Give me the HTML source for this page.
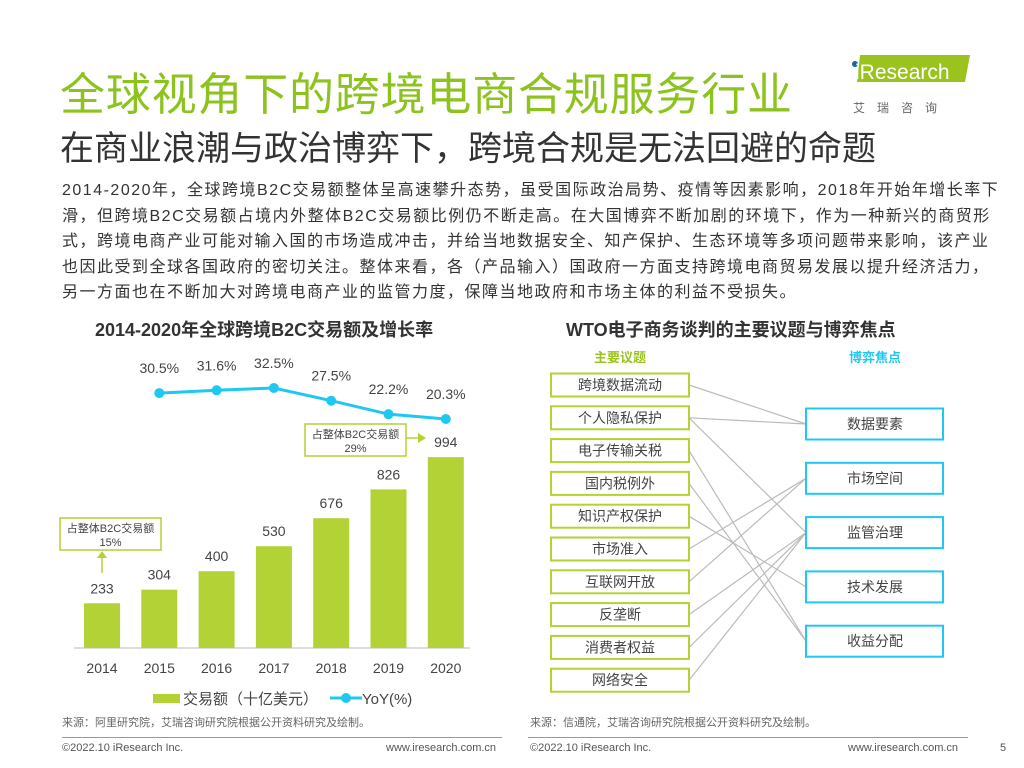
<!DOCTYPE html>
<html><head><meta charset="utf-8"><style>
body{margin:0;width:1024px;height:768px;background:#fff;position:relative;overflow:hidden;font-family:"Liberation Sans","Noto Sans CJK SC",sans-serif;color:#333}
.a{position:absolute;white-space:nowrap}
.p{font-size:16px;letter-spacing:1.5px;line-height:25.5px}
</style></head><body>
<div class="a" style="left:60px;top:58px;font-size:45px;color:#8cc31e;letter-spacing:0.8px">全球视角下的跨境电商合规服务行业</div>
<div class="a" style="left:60px;top:121px;font-size:34px;color:#333">在商业浪潮与政治博弈下，跨境合规是无法回避的命题</div>
<div class="a" style="left:845px;top:52px;width:130px;height:66px">
<svg width="130" height="66"><polygon points="15,3 125,3 120,30 12,30" fill="#9bc31e"/><circle cx="10" cy="12" r="3" fill="#1f5fa8"/><text x="10" y="27" font-size="21" fill="#fff" font-family="Liberation Sans">iResearch</text><text x="8" y="60" font-size="12" fill="#666" letter-spacing="12">艾瑞咨询</text></svg></div>
<div class="a p" style="left:62px;top:178px">2014-2020年，全球跨境B2C交易额整体呈高速攀升态势，虽受国际政治局势、疫情等因素影响，2018年开始年增长率下<br>滑，但跨境B2C交易额占境内外整体B2C交易额比例仍不断走高。在大国博弈不断加剧的环境下，作为一种新兴的商贸形<br>式，跨境电商产业可能对输入国的市场造成冲击，并给当地数据安全、知产保护、生态环境等多项问题带来影响，该产业<br>也因此受到全球各国政府的密切关注。整体来看，各（产品输入）国政府一方面支持跨境电商贸易发展以提升经济活力，<br>另一方面也在不断加大对跨境电商产业的监管力度，保障当地政府和市场主体的利益不受损失。</div>
<div class="a" style="left:95px;top:316px;font-size:18px;font-weight:bold;color:#333">2014-2020年全球跨境B2C交易额及增长率</div>
<div class="a" style="left:566px;top:316px;font-size:18px;font-weight:bold;color:#333">WTO电子商务谈判的主要议题与博弈焦点</div>
<svg class="a" style="left:0;top:0" width="1024" height="768" id="chart"></svg>
<div class="a" style="left:62px;top:714px;font-size:11px;color:#666">来源：阿里研究院，艾瑞咨询研究院根据公开资料研究及绘制。</div>
<div class="a" style="left:530px;top:714px;font-size:11px;color:#666">来源：信通院，艾瑞咨询研究院根据公开资料研究及绘制。</div>
<div class="a" style="left:62px;top:737px;width:440px;height:1px;background:#999"></div>
<div class="a" style="left:528px;top:737px;width:440px;height:1px;background:#999"></div>
<div class="a" style="left:62px;top:742px;font-size:11px;color:#555">©2022.10 iResearch Inc.</div>
<div class="a" style="left:386px;top:742px;font-size:11px;color:#555">www.iresearch.com.cn</div>
<div class="a" style="left:530px;top:742px;font-size:11px;color:#555">©2022.10 iResearch Inc.</div>
<div class="a" style="left:848px;top:742px;font-size:11px;color:#555">www.iresearch.com.cn</div>
<div class="a" style="left:1000px;top:742px;font-size:11px;color:#555">5</div>
<script>
const years=['2014','2015','2016','2017','2018','2019','2020'];
const amounts=[233,304,400,530,676,826,994];
const yoyYears=['2015','2016','2017','2018','2019','2020'];
const yoy=[30.5,31.6,32.5,27.5,22.2,20.3];
const leftTopics=['跨境数据流动','个人隐私保护','电子传输关税','国内税例外','知识产权保护','市场准入','互联网开放','反垄断','消费者权益','网络安全'];
const rightFocus=['数据要素','市场空间','监管治理','技术发展','收益分配'];
const links=[[0,0],[1,0],[1,2],[2,4],[3,4],[4,3],[5,1],[6,1],[7,2],[8,2],[9,2]];
const S='http://www.w3.org/2000/svg',svg=document.getElementById('chart');
function mk(t,a,p){const e=document.createElementNS(S,t);for(const k in a)e.setAttribute(k,a[k]);(p||svg).appendChild(e);return e;}
const base=648,xs=i=>102+i*57.3,ys=v=>base-v*0.192,yl=v=>388+(32.5-v)*2.54;
let e=mk('line',{x1:74,y1:base,x2:470,y2:base,stroke:'#bbb'});

amounts.forEach((v,i)=>{
 let b=mk('rect',{x:xs(i)-18,y:ys(v),width:36,height:base-ys(v),fill:'#b2d235'});
 
 let t=mk('text',{x:xs(i),y:ys(v)-10,'text-anchor':'middle','font-size':14,fill:'#444'});t.textContent=v;
 
 let l=mk('text',{x:xs(i),y:673,'text-anchor':'middle','font-size':14,fill:'#444'});l.textContent=years[i];
 
});
const pts=yoy.map((v,i)=>[xs(years.indexOf(yoyYears[i])),yl(v)]);
let pl=mk('polyline',{points:pts.map(p=>p.join(',')).join(' '),fill:'none',stroke:'#1ec8f0','stroke-width':3});

pts.forEach((p,i)=>{
 let c=mk('circle',{cx:p[0],cy:p[1],r:5,fill:'#1ec8f0'});
 
 let t=mk('text',{x:p[0],y:p[1]-20,'text-anchor':'middle','font-size':14,fill:'#444'});t.textContent=yoy[i].toFixed(1)+'%';
 
});
function callout(x,y,w,h,pct,name){let g=mk('g',{});
 mk('rect',{x,y,width:w,height:h,fill:'#fff',stroke:'#b2d235','stroke-width':1.5},g);
 let a=mk('text',{x:x+w/2,y:y+14,'text-anchor':'middle','font-size':11,fill:'#444'},g);a.textContent='占整体B2C交易额';
 let b=mk('text',{x:x+w/2,y:y+28,'text-anchor':'middle','font-size':11,fill:'#444'},g);b.textContent=pct;return g;}
callout(60,518,101,32,'15%','callout-2014');
mk('line',{x1:102,y1:573,x2:102,y2:556,stroke:'#b2d235','stroke-width':1.5});
mk('polygon',{points:'97,558 107,558 102,551',fill:'#b2d235'});
callout(305,424,101,32,'29%','callout-2020');
mk('line',{x1:406,y1:438,x2:420,y2:438,stroke:'#b2d235','stroke-width':1.5});
mk('polygon',{points:'418,433 418,443 426,438',fill:'#b2d235'});
let lg=mk('g',{});
mk('rect',{x:153,y:694,width:27,height:9,fill:'#b2d235'},lg);
let lt=mk('text',{x:183,y:704,'font-size':15,fill:'#444'},lg);lt.textContent='交易额（十亿美元）';
mk('line',{x1:330,y1:698,x2:362,y2:698,stroke:'#1ec8f0','stroke-width':3},lg);
mk('circle',{cx:346,cy:698,r:5,fill:'#1ec8f0'},lg);
let lt2=mk('text',{x:362,y:704,'font-size':15,fill:'#444'},lg);lt2.textContent='YoY(%)';
let h1=mk('text',{x:620,y:362,'text-anchor':'middle','font-size':13,'font-weight':'bold',fill:'#9bc31e'});h1.textContent='主要议题';

let h2=mk('text',{x:875,y:362,'text-anchor':'middle','font-size':13,'font-weight':'bold',fill:'#1ec8f0'});h2.textContent='博弈焦点';

const ly=i=>385+i*32.8,ry=i=>424+i*54.3;
links.forEach(([a,b])=>{let l=mk('line',{x1:689,y1:ly(a),x2:806,y2:ry(b),stroke:'#bbb','stroke-width':1.2});
 });
leftTopics.forEach((t,i)=>{let g=mk('g',{});
 mk('rect',{x:551,y:ly(i)-11.5,width:138,height:23,fill:'#fff',stroke:'#b2d235','stroke-width':2},g);
 let x=mk('text',{x:620,y:ly(i)+5,'text-anchor':'middle','font-size':14,fill:'#444'},g);x.textContent=t;});
rightFocus.forEach((t,i)=>{let g=mk('g',{});
 mk('rect',{x:806,y:ry(i)-15.5,width:137,height:31,fill:'#fff',stroke:'#1ec8f0','stroke-width':2},g);
 let x=mk('text',{x:875,y:ry(i)+5,'text-anchor':'middle','font-size':14,fill:'#444'},g);x.textContent=t;});
</script>
</body></html>
